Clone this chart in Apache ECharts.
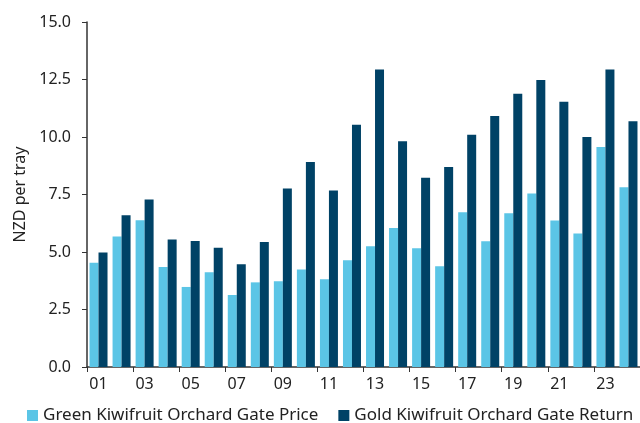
<!DOCTYPE html>
<html>
<head>
<meta charset="utf-8">
<script src="https://cdn.jsdelivr.net/npm/echarts@6/dist/echarts.min.js"></script>
<style>
  html, body { margin: 0; padding: 0; background: #fff; }
  #main { width: 640px; height: 423px; }
</style>
</head>
<body>
<div id="main"></div>
<script>
// years 2001 - 2024, shown as two digits
var years = ['01','02','03','04','05','06','07','08','09','10','11','12',
             '13','14','15','16','17','18','19','20','21','22','23','24'];
var greenPrice = [4.53, 5.67, 6.38, 4.35, 3.48, 4.12, 3.13, 3.68, 3.73, 4.24, 3.82, 4.64,
                  5.25, 6.04, 5.16, 4.38, 6.73, 5.47, 6.69, 7.54, 6.37, 5.80, 9.56, 7.82];
var goldReturn = [4.98, 6.60, 7.28, 5.54, 5.48, 5.19, 4.47, 5.43, 7.76, 8.91, 7.67, 10.53,
                  12.94, 9.82, 8.23, 8.70, 10.10, 10.91, 11.88, 12.48, 11.53, 10.00, 12.94, 10.69];
var seriesNames = ['Green Kiwifruit Orchard Gate Price', 'Gold Kiwifruit Orchard Gate Return'];

var font = 'Noto Sans';
var axisColor = '#333';

var chart = echarts.init(document.getElementById('main'));
chart.setOption({
  animation: false,
  textStyle: { fontFamily: font },
  grid: { left: 87, top: 22, bottom: 56, right: -9 },
  legend: {
    top: 407,
    left: 27,
    right: -60,
    padding: 0,
    itemWidth: 11,
    itemHeight: 11,
    itemGap: 20,
    icon: 'rect',
    textStyle: { fontSize: 17, color: '#222', fontFamily: font },
    data: seriesNames
  },
  xAxis: {
    type: 'category',
    data: years,
    axisLine: { lineStyle: { color: axisColor, width: 1.5 } },
    axisTick: { show: true, interval: 1, length: 5, lineStyle: { color: axisColor } },
    axisLabel: { interval: 1, margin: 9, fontSize: 16, color: '#222' }
  },
  yAxis: {
    type: 'value',
    min: 0,
    max: 15,
    interval: 2.5,
    name: 'NZD per tray',
    nameLocation: 'middle',
    nameRotate: 90,
    nameGap: 58,
    nameTextStyle: { fontSize: 16, color: '#222' },
    axisLine: { show: true, lineStyle: { color: axisColor, width: 1.5 } },
    axisTick: { show: true, length: 5, lineStyle: { color: axisColor } },
    splitLine: { show: false },
    axisLabel: {
      margin: 16,
      fontSize: 16,
      color: '#222',
      formatter: function (v) { return v.toFixed(1); }
    }
  },
  series: [
    {
      name: seriesNames[0],
      type: 'bar',
      data: greenPrice,
      barWidth: 9,
      barGap: '0%',
      itemStyle: { color: '#5BC5E6' }
    },
    {
      name: seriesNames[1],
      type: 'bar',
      data: goldReturn,
      barWidth: 9,
      itemStyle: { color: '#004266' }
    }
  ]
});
</script>
</body>
</html>
